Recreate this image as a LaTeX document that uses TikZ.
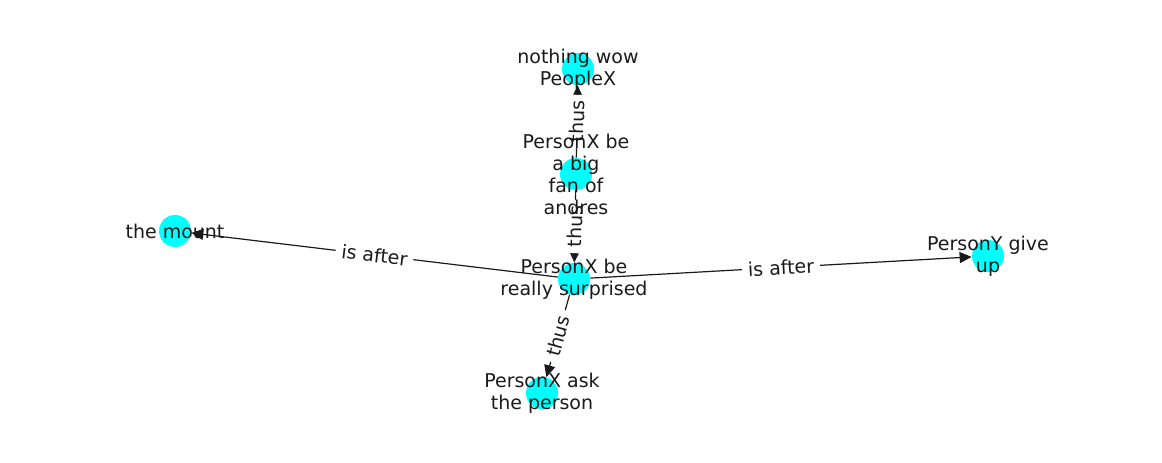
\documentclass[tikz,border=0pt]{standalone}
\usepackage{fontspec}
\setmainfont{DejaVu Sans}
\usetikzlibrary{arrows.meta,positioning}
\definecolor{nodecyan}{RGB}{0,255,255}
\definecolor{inkgray}{RGB}{26,26,26}
\tikzset{
  dot/.style={circle,fill=nodecyan,minimum size=16pt,inner sep=0pt},
  txt/.style={align=center,text=inkgray,font=\fontsize{9.5}{11}\selectfont,inner sep=0pt},
  edge/.style={-{Triangle[length=6pt,width=5.5pt]},line width=0.6pt,draw=inkgray},
  elabel/.style={midway,sloped,fill=white,inner sep=3pt,text=inkgray,font=\fontsize{9.5}{11}\selectfont}
}
\begin{document}
\begin{tikzpicture}[x=0.5pt,y=0.5pt]
\useasboundingbox (0,0) rectangle (1162,462);
% nodes
\node[dot] (nothing) at (578,393) {};
\node[dot] (fan) at (576,288) {};
\node[dot] (surprised) at (574,183) {};
\node[dot] (ask) at (542,69) {};
\node[dot] (mount) at (175,231) {};
\node[dot] (giveup) at (988,206) {};
% edges
\draw[edge] (fan) -- (nothing) node[elabel] {thus};
\draw[edge] (fan) -- (surprised) node[elabel] {thus};
\draw[edge] (surprised) -- (ask) node[elabel] {thus};
\draw[edge] (surprised) -- (mount) node[elabel] {is after};
\draw[edge] (surprised) -- (giveup) node[elabel] {is after};
% labels
\node[txt] (nothing-t) at (nothing) {nothing wow\\PeopleX};
\node[txt] (fan-t) at (fan) {PersonX be\\a big\\fan of\\andres};
\node[txt] (surprised-t) at (surprised) {PersonX be\\really surprised};
\node[txt] (ask-t) at (ask) {PersonX ask\\the person};
\node[txt] (mount-t) at (mount) {the mount};
\node[txt] (giveup-t) at (giveup) {PersonY give\\up};
\end{tikzpicture}
\end{document}
